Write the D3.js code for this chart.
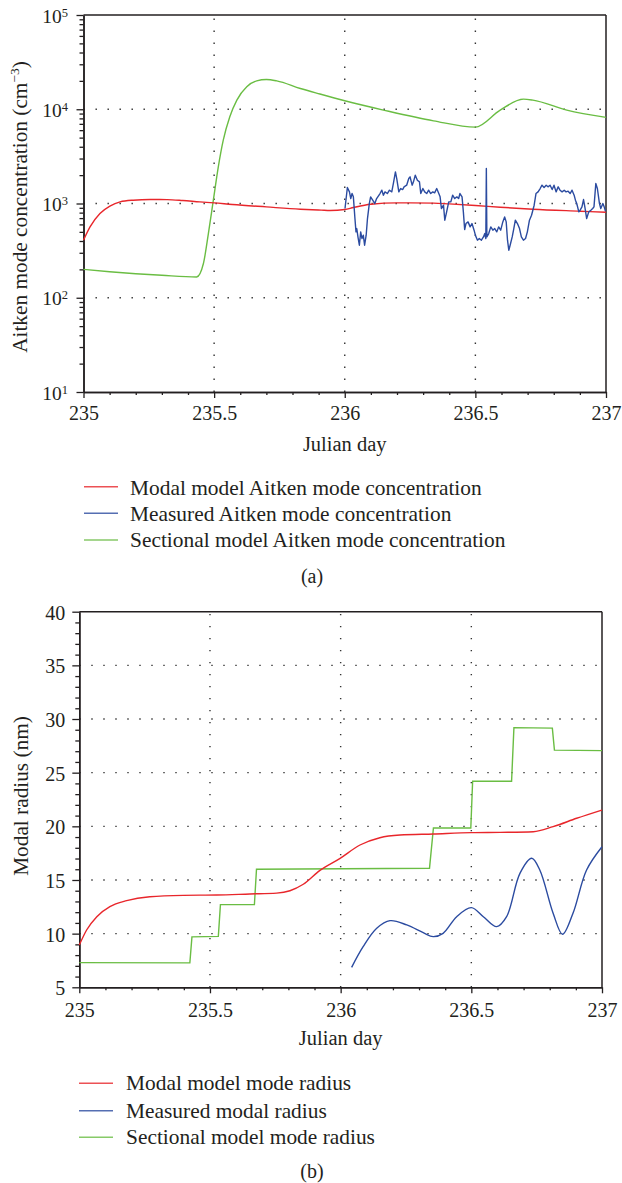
<!DOCTYPE html>
<html><head><meta charset="utf-8">
<script src="https://cdn.jsdelivr.net/npm/d3@7"></script>
<style>
body{margin:0;background:#fff;}
svg text{font-family:"Liberation Serif","Times New Roman",serif;fill:#231f20;}
</style></head><body>
<svg id="c" width="622" height="1183"></svg>
<script>
// ---------- DATA: panel (a) ----------
const xTicks = [235, 235.5, 236, 236.5, 237];
const xTickLabels = ["235", "235.5", "236", "236.5", "237"];
const concTickExp = [1, 2, 3, 4, 5];

const modalConcDay = [235.0, 235.025, 235.063, 235.101, 235.14, 235.19, 235.255, 235.32, 235.38, 235.445, 235.5, 235.57, 235.70, 235.83, 235.91, 235.944, 236.0, 236.033, 236.10, 236.2, 236.34, 236.40, 236.5, 236.595, 236.72, 236.90, 237.0];
const modalConc = [409, 565, 783, 936, 1040, 1084, 1102, 1100, 1076, 1040, 1015, 976, 920, 870, 850, 842, 863, 907, 983, 1015, 1010, 990, 952, 913, 870, 829, 808];

const sectConcDay = [235.0, 235.1, 235.2, 235.3, 235.433, 235.459, 235.478, 235.497, 235.516, 235.535, 235.56, 235.587, 235.625, 235.663, 235.70, 235.74, 235.83, 235.905, 236.0, 236.148, 236.34, 236.5, 236.595, 236.684, 236.72, 236.85, 237.0];
const sectConc = [200, 189, 180, 173, 166, 231, 479, 1084, 2450, 4700, 8320, 12500, 17300, 20000, 20700, 20000, 16600, 14500, 12300, 9800, 7530, 6460, 9800, 12800, 12500, 9800, 8190];

const measConcDay = [236.001, 236.010, 236.018, 236.023, 236.028, 236.033, 236.039, 236.043, 236.046, 236.051, 236.056, 236.061, 236.066, 236.071, 236.076, 236.082, 236.087, 236.094, 236.099, 236.107, 236.115, 236.122, 236.135, 236.142, 236.148, 236.154, 236.163, 236.171, 236.180, 236.186, 236.194, 236.199, 236.207, 236.214, 236.222, 236.227, 236.237, 236.245, 236.250, 236.258, 236.263, 236.270, 236.278, 236.286, 236.291, 236.299, 236.306, 236.314, 236.321, 236.329, 236.337, 236.344, 236.352, 236.360, 236.365, 236.370, 236.378, 236.383, 236.390, 236.398, 236.406, 236.413, 236.421, 236.429, 236.436, 236.441, 236.449, 236.454, 236.459, 236.464, 236.472, 236.480, 236.487, 236.495, 236.500, 236.508, 236.515, 236.523, 236.531, 236.536, 236.540, 236.542, 236.544, 236.551, 236.559, 236.567, 236.574, 236.582, 236.589, 236.597, 236.605, 236.612, 236.618, 236.623, 236.628, 236.633, 236.641, 236.646, 236.653, 236.661, 236.669, 236.676, 236.684, 236.692, 236.699, 236.707, 236.715, 236.720, 236.725, 236.732, 236.740, 236.748, 236.755, 236.763, 236.771, 236.778, 236.786, 236.794, 236.801, 236.809, 236.817, 236.824, 236.832, 236.840, 236.847, 236.855, 236.863, 236.870, 236.878, 236.883, 236.888, 236.896, 236.901, 236.908, 236.914, 236.919, 236.926, 236.934, 236.942, 236.949, 236.954, 236.961, 236.967, 236.975, 236.980, 236.988, 236.993, 236.998];
const measConc = [884, 1478, 1329, 1129, 1276, 1176, 692, 500, 542, 435, 361, 500, 425, 461, 361, 461, 692, 999, 1176, 1084, 999, 1129, 1276, 1384, 1225, 1329, 1276, 1384, 1329, 1629, 2166, 1841, 1329, 1442, 1407, 1502, 1564, 1841, 1917, 1564, 1697, 1997, 1767, 1697, 1276, 1442, 1329, 1276, 1384, 1276, 1329, 1297, 1442, 1276, 1176, 884, 959, 665, 815, 1040, 1040, 1225, 1129, 1176, 1129, 1276, 1176, 815, 529, 613, 638, 565, 613, 521, 461, 408, 425, 408, 442, 480, 425, 2350, 442, 480, 565, 521, 542, 500, 565, 521, 638, 721, 638, 408, 319, 361, 442, 521, 665, 613, 542, 442, 408, 425, 500, 665, 751, 849, 959, 1276, 1329, 1442, 1564, 1478, 1564, 1502, 1564, 1407, 1564, 1329, 1502, 1384, 1329, 1384, 1329, 1351, 1276, 1384, 1225, 1084, 999, 815, 849, 921, 1102, 921, 692, 815, 849, 884, 921, 1629, 1442, 999, 884, 999, 921, 829];

const legendA = ["Modal model Aitken mode concentration", "Measured Aitken mode concentration", "Sectional model Aitken mode concentration"];

// ---------- DATA: panel (b) ----------
const radiusTicks = [5, 10, 15, 20, 25, 30, 35, 40];

const modalRadDay = [235.0, 235.028, 235.067, 235.117, 235.181, 235.27, 235.398, 235.526, 235.653, 235.755, 235.806, 235.857, 235.921, 235.998, 236.074, 236.15, 236.227, 236.354, 236.5, 236.61, 236.737, 236.813, 236.903, 237.0];
const modalRad = [8.94, 10.34, 11.58, 12.51, 13.07, 13.44, 13.57, 13.6, 13.7, 13.78, 14.0, 14.6, 15.9, 17.02, 18.26, 18.94, 19.19, 19.29, 19.41, 19.44, 19.5, 19.97, 20.75, 21.52];

const measRadDay = [236.042, 236.086, 236.138, 236.189, 236.253, 236.316, 236.354, 236.392, 236.444, 236.5, 236.546, 236.597, 236.635, 236.686, 236.731, 236.762, 236.813, 236.849, 236.889, 236.941, 237.0];
const measRad = [6.86, 8.78, 10.5, 11.21, 10.81, 10.09, 9.72, 10.03, 11.58, 12.42, 11.58, 10.65, 11.58, 15.62, 17.02, 15.93, 11.9, 9.94, 11.9, 15.93, 18.1];

const sectRadDay = [235.0, 235.423, 235.431, 235.532, 235.540, 235.670, 235.678, 236.340, 236.355, 236.498, 236.505, 236.654, 236.663, 236.810, 236.818, 237.0];
const sectRad = [7.3, 7.28, 9.7, 9.75, 12.7, 12.7, 16.0, 16.1, 19.85, 19.85, 24.2, 24.2, 29.2, 29.15, 27.1, 27.05];

const legendB = ["Modal model mode radius", "Measured modal radius", "Sectional model mode radius"];

// ---------- STYLE ----------
const RED = "#e8262b", BLUE = "#2b4ba0", GREEN = "#6abd43";
const INK = "#231f20";
const svg = d3.select("#c");

function zip(a, b) { return a.map((d, i) => [d, b[i]]); }

function styleAxis(g) {
  g.select(".domain").attr("stroke", INK).attr("stroke-width", 1.5);
  g.selectAll(".tick line").attr("stroke", INK).attr("stroke-width", 1.3);
}

function xAxis(P, x, labelOffset, titleBase) {
  const minor = d3.range(235, 237.001, 0.1).map(d => +d.toFixed(1)).filter(d => !xTicks.includes(d));
  const gm = svg.append("g").attr("transform", `translate(0,${P.b})`)
    .call(d3.axisBottom(x).tickValues(minor).tickSize(3).tickSizeOuter(0).tickFormat(""));
  styleAxis(gm);
  const g = svg.append("g").attr("transform", `translate(0,${P.b})`)
    .call(d3.axisBottom(x).tickValues(xTicks).tickSize(6).tickSizeOuter(0).tickFormat((d, i) => xTickLabels[i]));
  styleAxis(g);
  g.selectAll(".tick text").attr("y", labelOffset).attr("dy", 0)
    .style("font-size", "20px").attr("fill", INK);
  svg.append("text").attr("x", (P.l + P.r) / 2).attr("y", titleBase)
    .attr("text-anchor", "middle").style("font-size", "20.5px").text("Julian day");
}

function frame(P) {
  svg.append("line").attr("x1", P.l).attr("x2", P.r).attr("y1", P.t).attr("y2", P.t)
    .attr("stroke", INK).attr("stroke-width", 1.5);
  svg.append("line").attr("x1", P.r).attr("x2", P.r).attr("y1", P.t).attr("y2", P.b)
    .attr("stroke", INK).attr("stroke-width", 1.5);
}

function grid(P, x, y, yVals) {
  const g = svg.append("g").attr("stroke", "#333").attr("stroke-width", 1.4)
    .attr("stroke-dasharray", "1.4,10.6");
  [235.5, 236, 236.5].forEach(d => {
    g.append("line").attr("x1", x(d)).attr("x2", x(d)).attr("y1", P.b).attr("y2", P.t);
  });
  yVals.forEach(v => {
    g.append("line").attr("x1", P.l).attr("x2", P.r).attr("y1", y(v)).attr("y2", y(v));
  });
}

function legend(items, colors, x0, x1, tx, ys, bases) {
  items.forEach((t, i) => {
    svg.append("line").attr("x1", x0).attr("x2", x1).attr("y1", ys[i]).attr("y2", ys[i])
      .attr("stroke", colors[i]).attr("stroke-width", 1.4).attr("opacity", 0.8);
    svg.append("text").attr("x", tx).attr("y", bases[i]).style("font-size", "21.4px").text(t);
  });
}

// ---------- PANEL (a) ----------
const A = { l: 83.5, r: 606, t: 15, b: 392 };
const xA = d3.scaleLinear().domain([235, 237]).range([A.l, A.r]);
const yA = d3.scaleLog().domain([10, 1e5]).range([A.b, A.t]);

grid(A, xA, yA, [1e2, 1e3, 1e4]);

// y axis (log)
const logMinor = [];
for (let e = 1; e < 5; e++) for (let m = 2; m <= 9; m++) logMinor.push(m * Math.pow(10, e));
styleAxis(svg.append("g").attr("transform", `translate(${A.l},0)`)
  .call(d3.axisLeft(yA).tickValues(logMinor).tickSize(4).tickSizeOuter(0).tickFormat("")));
const gyA = svg.append("g").attr("transform", `translate(${A.l},0)`)
  .call(d3.axisLeft(yA).tickValues(concTickExp.map(e => Math.pow(10, e))).tickSize(7).tickSizeOuter(0).tickFormat(""));
styleAxis(gyA);
concTickExp.forEach(e => {
  const t = svg.append("text").attr("x", 68).attr("y", yA(Math.pow(10, e)) + 7.5)
    .attr("text-anchor", "end").style("font-size", "19.5px");
  t.append("tspan").text("10");
  t.append("tspan").attr("dy", -6).style("font-size", "12.5px").text(String(e));
});

xAxis(A, xA, 28, 451);
frame(A);

const yTitleA = svg.append("text").attr("transform", "translate(27,207) rotate(-90)")
  .attr("text-anchor", "middle").style("font-size", "21.3px");
yTitleA.append("tspan").text("Aitken mode concentration (cm");
yTitleA.append("tspan").attr("dy", -8).style("font-size", "13.5px").text("\u22123");
yTitleA.append("tspan").attr("dy", 8).text(")");

const lineA = d3.line().x(d => xA(d[0])).y(d => yA(d[1]));
svg.append("path").datum(zip(sectConcDay, sectConc)).attr("fill", "none").attr("stroke", GREEN)
  .attr("stroke-width", 1.4).attr("d", lineA.curve(d3.curveMonotoneX));
svg.append("path").datum(zip(modalConcDay, modalConc)).attr("fill", "none").attr("stroke", RED)
  .attr("stroke-width", 1.4).attr("d", lineA.curve(d3.curveMonotoneX));
svg.append("path").datum(zip(measConcDay, measConc)).attr("fill", "none").attr("stroke", BLUE)
  .attr("stroke-width", 1.4).attr("stroke-linejoin", "round").attr("d", lineA.curve(d3.curveLinear));

legend(legendA, [RED, BLUE, GREEN], 84, 118, 130, [486.7, 513.3, 540], [495, 521, 547]);
svg.append("text").attr("x", 312).attr("y", 583).attr("text-anchor", "middle").style("font-size", "20px").text("(a)");

// ---------- PANEL (b) ----------
const B = { l: 79.3, r: 602, t: 611.7, b: 987.3 };
const xB = d3.scaleLinear().domain([235, 237]).range([B.l, B.r]);
const yB = d3.scaleLinear().domain([5, 40]).range([B.b, B.t]);

grid(B, xB, yB, [10, 15, 20, 25, 30, 35]);

const radMinor = d3.range(5, 41, 1).filter(d => !radiusTicks.includes(d));
styleAxis(svg.append("g").attr("transform", `translate(${B.l},0)`)
  .call(d3.axisLeft(yB).tickValues(radMinor).tickSize(4).tickSizeOuter(0).tickFormat("")));
const gyB = svg.append("g").attr("transform", `translate(${B.l},0)`)
  .call(d3.axisLeft(yB).tickValues(radiusTicks).tickSize(7).tickSizeOuter(0).tickFormat(d => String(d)));
styleAxis(gyB);
gyB.selectAll(".tick text").attr("x", -14).attr("dy", 7.5).style("font-size", "20px").attr("fill", INK);

xAxis(B, xB, 30, 1045);
frame(B);

svg.append("text").attr("transform", "translate(28,796) rotate(-90)")
  .attr("text-anchor", "middle").style("font-size", "21.3px").text("Modal radius (nm)");

const lineB = d3.line().x(d => xB(d[0])).y(d => yB(d[1]));
svg.append("path").datum(zip(sectRadDay, sectRad)).attr("fill", "none").attr("stroke", GREEN)
  .attr("stroke-width", 1.4).attr("d", lineB.curve(d3.curveLinear));
svg.append("path").datum(zip(modalRadDay, modalRad)).attr("fill", "none").attr("stroke", RED)
  .attr("stroke-width", 1.4).attr("d", lineB.curve(d3.curveMonotoneX));
svg.append("path").datum(zip(measRadDay, measRad)).attr("fill", "none").attr("stroke", BLUE)
  .attr("stroke-width", 1.4).attr("d", lineB.curve(d3.curveCatmullRom.alpha(0.5)));

legend(legendB, [RED, BLUE, GREEN], 79, 113, 126, [1083.3, 1110.7, 1137.3], [1090, 1117.7, 1144]);
svg.append("text").attr("x", 312).attr("y", 1178).attr("text-anchor", "middle").style("font-size", "20px").text("(b)");
</script>
</body></html>
